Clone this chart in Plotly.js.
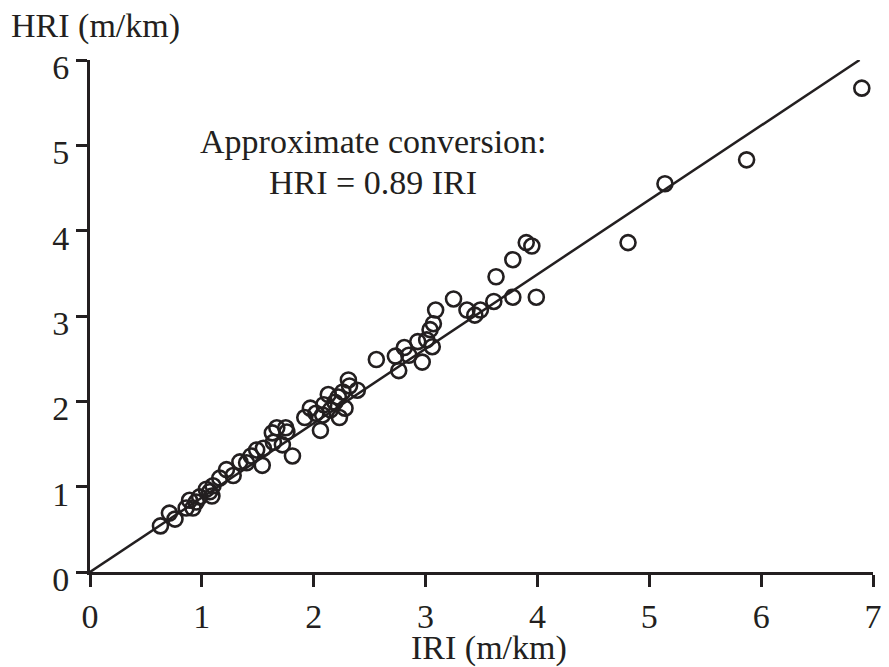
<!DOCTYPE html>
<html><head><meta charset="utf-8">
<script src="https://cdn.plot.ly/plotly-3.0.1.min.js"></script>
<style>html,body{margin:0;padding:0;background:#fff}#chart{width:889px;height:667px}</style>
</head><body><div id="chart"></div>
<script>
const iri = [0.63,0.71,0.76,0.86,0.89,0.92,0.95,0.98,1.04,1.07,1.09,1.10,1.16,1.22,1.28,1.34,1.40,1.44,1.49,1.54,1.55,1.63,1.64,1.67,1.72,1.76,1.75,1.81,1.92,1.97,2.02,2.06,2.08,2.09,2.13,2.15,2.19,2.22,2.23,2.26,2.28,2.31,2.32,2.39,2.56,2.73,2.76,2.81,2.85,2.93,2.97,3.01,3.04,3.06,3.07,3.09,3.25,3.37,3.44,3.49,3.61,3.63,3.78,3.78,3.90,3.95,3.99,4.81,5.14,5.87,6.90];
const hri = [0.54,0.69,0.62,0.75,0.84,0.75,0.82,0.88,0.97,0.94,0.89,1.01,1.10,1.20,1.13,1.29,1.28,1.36,1.43,1.25,1.45,1.63,1.52,1.69,1.49,1.64,1.69,1.36,1.81,1.92,1.86,1.66,1.84,1.96,2.08,1.90,1.99,2.05,1.81,2.11,1.92,2.25,2.18,2.13,2.49,2.53,2.36,2.63,2.54,2.70,2.46,2.72,2.84,2.64,2.91,3.07,3.20,3.07,3.01,3.07,3.17,3.46,3.66,3.22,3.86,3.82,3.22,3.86,4.55,4.83,5.67];
const fitX = [0, 6.88];
const fitY = [0, 6.0];
const xTicks = [0,1,2,3,4,5,6,7];
const yTicks = [0,1,2,3,4,5,6];
const ink = '#231f20';
const fnt = {family:'Times New Roman, Liberation Serif, Noto Serif, DejaVu Serif, serif', size:34, color:ink};

const data = [
  {x: fitX, y: fitY, mode:'lines', line:{color:ink, width:2.5}, hoverinfo:'skip', cliponaxis:false},
  {x: iri, y: hri, mode:'markers', cliponaxis:false,
   marker:{symbol:'circle-open', size:15, color:ink, line:{color:ink, width:2.6}}}
];
const layout = {
  width:889, height:667, showlegend:false,
  paper_bgcolor:'#fff', plot_bgcolor:'#fff',
  margin:{l:90, r:16, t:60, b:95},
  font: fnt,
  xaxis:{range:[0,7], tickvals:xTicks, ticktext:xTicks.map(String), showgrid:false, zeroline:false,
         showline:true, linecolor:ink, linewidth:3, ticks:'outside', ticklen:12, tickwidth:3, tickcolor:ink,
         tickfont:fnt, ticklabelstandoff:0, fixedrange:true},
  yaxis:{range:[0,6], tickvals:yTicks, ticktext:yTicks.map(String), showgrid:false, zeroline:false,
         showline:true, linecolor:ink, linewidth:3, ticks:'outside', ticklen:11, tickwidth:3, tickcolor:ink,
         tickfont:fnt, ticklabelshift:7, fixedrange:true},
  annotations:[
    {text:'HRI (m/km)', xref:'paper', yref:'paper', x:-0.103, y:1.067, xanchor:'left', yanchor:'middle', showarrow:false, font:fnt},
    {text:'IRI (m/km)', xref:'paper', yref:'paper', x:0.5096, y:-0.149, xanchor:'center', yanchor:'middle', showarrow:false, font:fnt},
    {text:'Approximate conversion:', xref:'x', yref:'y', x:2.53, y:5.04, xanchor:'center', yanchor:'middle', showarrow:false, font:fnt},
    {text:'HRI = 0.89 IRI', xref:'x', yref:'y', x:2.53, y:4.57, xanchor:'center', yanchor:'middle', showarrow:false, font:fnt}
  ]
};
Plotly.newPlot('chart', data, layout, {staticPlot:true});
</script>
</body></html>
